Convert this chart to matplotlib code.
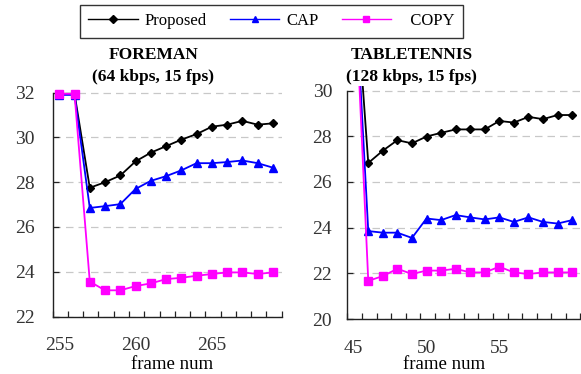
import numpy as np
import matplotlib
matplotlib.use('Agg')
import matplotlib.pyplot as plt
from matplotlib.lines import Line2D

plt.rcParams['font.family'] = ['Liberation Serif', 'DejaVu Serif']

# FOREMAN (64 kbps, 15 fps)
frames_fm = list(range(255, 270))
proposed_fm = [31.95, 31.95, 27.75, 28.0, 28.3, 28.93, 29.32, 29.61, 29.9, 30.15,
               30.48, 30.57, 30.74, 30.57, 30.63]
cap_fm = [31.9, 31.9, 26.85, 26.93, 27.02, 27.7, 28.06, 28.27, 28.53, 28.85,
          28.85, 28.9, 28.97, 28.85, 28.65]
copy_fm = [31.95, 31.95, 23.56, 23.17, 23.17, 23.36, 23.48, 23.67, 23.73, 23.82,
           23.9, 23.97, 23.97, 23.9, 23.97]

# TABLETENNIS (128 kbps, 15 fps)
frames_tt = list(range(45, 61))
proposed_tt = [35.75, 26.83, 27.37, 27.83, 27.69, 27.99, 28.15, 28.3, 28.3, 28.3,
               28.67, 28.6, 28.85, 28.75, 28.93, 28.93]
cap_tt = [35.75, 23.85, 23.78, 23.78, 23.55, 24.4, 24.33, 24.55, 24.45, 24.36,
          24.45, 24.25, 24.45, 24.25, 24.18, 24.33]
copy_tt = [35.75, 21.67, 21.88, 22.2, 21.97, 22.12, 22.12, 22.2, 22.04, 22.04,
           22.29, 22.04, 21.97, 22.04, 22.04, 22.04]

labels = ['Proposed', 'CAP', '   COPY']
colors = ['black', '#0000ff', '#ff00ff']
markers = ['D', '^', 's']
msizes = [4.5, 6, 5.5]


def draw_panel(ax, frames, series, xlim, ylim, yticks, xticks, ypad):
    for vals, c, m, ms in zip(series, colors, markers, msizes):
        ax.plot(frames, vals, color=c, marker=m, markersize=ms, lw=1.3)
    ax.set_xlim(*xlim)
    ax.set_ylim(*ylim)
    ax.set_yticks(yticks)
    ax.set_xticks(xticks)
    ax.set_xticks(np.arange(xlim[0], xlim[1] + 0.01, 1.0), minor=True)
    for y in yticks:
        ax.axhline(y, color='#c8c8c8', lw=0.9, ls=(0, (6, 4)), zorder=0)
    for s in ['top', 'right']:
        ax.spines[s].set_visible(False)
    for s in ['left', 'bottom']:
        ax.spines[s].set_color('#222222')
        ax.spines[s].set_linewidth(1.0)
    ax.spines['left'].set_bounds(yticks[0], yticks[-1])
    ax.tick_params(axis='x', which='major', length=0, pad=15, labelsize=14,
                   labelcolor='#333333')
    ax.tick_params(axis='x', which='minor', direction='in', length=4, width=0.9,
                   color='#222222')
    ax.tick_params(axis='y', direction='in', length=4, width=0.9, pad=ypad,
                   labelsize=14, labelcolor='#333333', color='#222222')
    ax.set_xlabel('frame num', fontsize=13.5)


fig = plt.figure(figsize=(5.81, 3.74), dpi=100)

ax1 = fig.add_axes([0.0907, 0.1537, 0.394, 0.6165])
draw_panel(ax1, frames_fm, [proposed_fm, cap_fm, copy_fm], (254.57, 269.57),
           (22, 32.3), [22, 24, 26, 28, 30, 32], [255, 260, 265], 13)
ax1.xaxis.set_label_coords(0.52, -0.172)

ax2 = fig.add_axes([0.598, 0.147, 0.401, 0.623])
draw_panel(ax2, frames_tt, [proposed_tt, cap_tt, copy_tt], (44.57, 60.57),
           (20, 30.2), [20, 22, 24, 26, 28, 30], [45, 50, 55], 11)
ax2.xaxis.set_label_coords(0.414, -0.160)

fig.text(0.264, 0.853, 'FOREMAN', ha='center', va='center', fontsize=12.5,
         fontweight='bold')
fig.text(0.264, 0.794, '(64 kbps, 15 fps)', ha='center', va='center',
         fontsize=12.5, fontweight='bold')
fig.text(0.709, 0.853, 'TABLETENNIS', ha='center', va='center', fontsize=12.5,
         fontweight='bold')
fig.text(0.709, 0.794, '(128 kbps, 15 fps)', ha='center', va='center',
         fontsize=12.5, fontweight='bold')

handles = [Line2D([], [], color=c, marker=m, markersize=ms * 0.8, lw=1.0)
           for c, m, ms in zip(colors, markers, msizes)]
leg = fig.legend(handles, labels, loc='center', bbox_to_anchor=(271.5 / 581, 1 - 21.3 / 374),
                 ncol=3, fontsize=12, frameon=True, fancybox=False,
                 handlelength=2.95, handletextpad=0.42, columnspacing=1.4,
                 borderpad=0.5, borderaxespad=0)
leg.get_frame().set_edgecolor('black')
leg.get_frame().set_linewidth(1.0)

fig.savefig('out.png', dpi=100)
